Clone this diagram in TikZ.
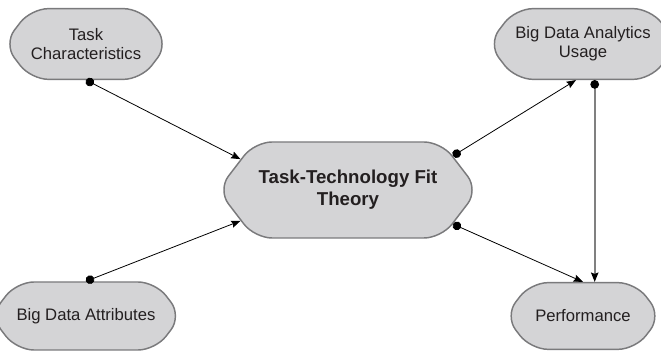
\documentclass[tikz,border=0pt]{standalone}
\usepackage{fontspec}
\setmainfont{Liberation Sans}
\usetikzlibrary{shapes.symbols,arrows.meta}
\definecolor{boxfill}{RGB}{212,212,214}
\definecolor{boxline}{RGB}{122,122,124}
\definecolor{stemline}{RGB}{128,128,128}
\definecolor{inktext}{RGB}{35,31,32}
\tikzset{
  blob/.style={signal, signal to=west and east, signal pointer angle=105,
    fill=boxfill, draw=boxline, line width=1.1pt, rounded corners=13pt,
    align=center, text=inktext, inner sep=0pt,
    font=\fontsize{12.5}{14.5}\selectfont},
  link/.style={line width=0.6pt,
    {Circle[length=6.5pt,color=black]}-{Stealth[length=7pt,width=5.5pt,inset=1pt,color=black]}}
}
\begin{document}
\begin{tikzpicture}[x=0.75pt,y=-0.75pt]
\useasboundingbox (0,0) rectangle (661,352);
\node[blob, minimum width=121pt, minimum height=53pt] (task) at (86,44) {Task\\Characteristics};
\node[blob, minimum width=118pt, minimum height=53pt] (usage) at (583,44) {Big Data Analytics\\Usage};
\node[blob, minimum width=192pt, minimum height=72pt, inner xsep=3pt, font=\fontsize{14}{16.5}\selectfont\bfseries] (ttf) at (348,190) {Task-Technology Fit\\Theory};
\node[blob, minimum width=121pt, minimum height=51pt] (attr) at (86,316) {Big Data Attributes};
\node[blob, minimum width=117pt, minimum height=50pt] (perf) at (583,316) {Performance};
\draw[link] (task.south) -- (ttf.164);
\draw[link] (attr.north) -- (ttf.196);
\draw[link] (ttf.18) -- (usage.-101);
\draw[link] (ttf.-18) -- (perf.north);
\draw[link, draw=stemline, line width=1.2pt] (usage.-72) -- (usage.-72 |- perf.north);
\end{tikzpicture}
\end{document}
